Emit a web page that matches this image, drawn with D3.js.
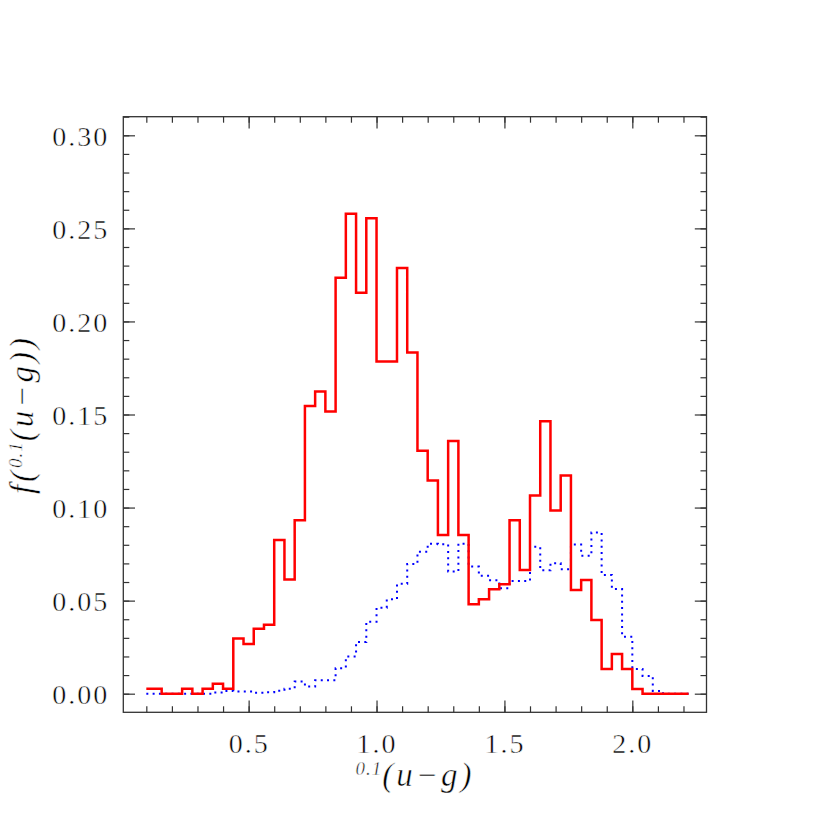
<!DOCTYPE html>
<html><head><meta charset="utf-8">
<script src="https://cdn.jsdelivr.net/npm/d3@7"></script>
<style>body{margin:0;background:#fff}svg{display:block}</style>
</head><body><svg id="c" width="830" height="830"></svg>
<script>
// ---- data ----
const binCenters = [0.10,0.14,0.18,0.22,0.26,0.30,0.34,0.38,0.42,0.46,0.50,0.54,0.58,0.62,0.66,0.70,0.74,0.78,
  0.82,0.86,0.90,0.94,0.98,1.02,1.06,1.10,1.14,1.18,1.22,1.26,1.30,1.34,1.38,1.42,1.46,1.50,1.54,1.58,
  1.62,1.66,1.70,1.74,1.78,1.82,1.86,1.90,1.94,1.98,2.02,2.06,2.10,2.14,2.18,2.22];
const redValues = [0.0027,0.0027,0,0,0.0027,0,0.0027,0.0054,0.0027,0.0296,0.0267,0.0349,0.0371,0.0826,0.0613,0.0932,0.1545,0.1624,
  0.1516,0.2235,0.2579,0.2154,0.2554,0.1785,0.1785,0.2287,0.1833,0.1305,0.1145,0.0853,0.1357,0.0853,0.0481,0.0507,0.0561,0.0588,0.0932,0.0665,
  0.1065,0.1464,0.0984,0.1172,0.0557,0.0611,0.0396,0.0133,0.0213,0.0133,0.0025,0,0,0,0,0];
const blueValues = [0,0,0,0,0,0,0,0.0007,0.0015,0.0012,0.0012,0.0005,0.0008,0.0016,0.0027,0.0065,0.0038,0.0072,
  0.0072,0.0137,0.0200,0.0278,0.0387,0.0462,0.0507,0.0590,0.0697,0.0763,0.0805,0.0803,0.0656,0.0806,0.0683,0.0633,0.0610,0.0567,0.0606,0.0606,
  0.0789,0.0663,0.0701,0.0669,0.0802,0.0741,0.0866,0.0638,0.0562,0.0306,0.0133,0.0095,0.0015,0,0,0];
const xMajorTicks = [0.5, 1.0, 1.5, 2.0];
const xTickLabels = ["0.5", "1.0", "1.5", "2.0"];
const yMajorTicks = [0.00, 0.05, 0.10, 0.15, 0.20, 0.25, 0.30];
const yTickLabels = ["0.00", "0.05", "0.10", "0.15", "0.20", "0.25", "0.30"];
const xMinorTicks = d3.range(1, 23).map(i => i / 10);
const yMinorTicks = d3.range(0, 32).map(i => i / 100);

// ---- layout ----
const L = 123.3, R = 706.5, T = 116.7, B = 712.3;
const svg = d3.select("#c");
svg.append("rect").attr("width", 830).attr("height", 830).attr("fill", "#fff");
const x = d3.scaleLinear().domain([0.01, 2.29]).range([L, R]);
const y = d3.scaleLinear().domain([-0.01, 0.31]).range([B, T]);

const axisColor = "#333";
const fontNum = "'Liberation Serif', 'Times New Roman', serif";

function drawAxis(axisGen, tx, ty, ticks, size, fmt) {
  const g = svg.append("g").attr("transform", `translate(${tx},${ty})`)
    .call(axisGen.tickValues(ticks).tickSizeInner(size).tickSizeOuter(0).tickFormat(fmt || (() => "")));
  g.select(".domain").remove();
  g.selectAll(".tick line").attr("stroke", axisColor).attr("stroke-width", 1.2);
  return g;
}
// minor ticks
drawAxis(d3.axisBottom(x), 0, B, xMinorTicks, -6);
drawAxis(d3.axisTop(x), 0, T, xMinorTicks, -6);
drawAxis(d3.axisLeft(y), L, 0, yMinorTicks, -6);
drawAxis(d3.axisRight(y), R, 0, yMinorTicks, -6);
// major ticks
const gxb = drawAxis(d3.axisBottom(x), 0, B, xMajorTicks, -11.7, (d, i) => xTickLabels[i]);
drawAxis(d3.axisTop(x), 0, T, xMajorTicks, -11.7);
const gyl = drawAxis(d3.axisLeft(y), L, 0, yMajorTicks, -11.7, (d, i) => yTickLabels[i]);
drawAxis(d3.axisRight(y), R, 0, yMajorTicks, -11.7);

function thin(sel) {
  sel.attr("fill", "#000").attr("stroke", "#fff").attr("stroke-width", 0.5).attr("paint-order", "normal");
}
gxb.selectAll(".tick text").attr("y", 41).attr("dy", 0)
  .attr("font-family", fontNum).attr("font-size", 28).attr("letter-spacing", 2).call(thin);
gyl.selectAll(".tick text").attr("x", -14).attr("dy", "0.36em")
  .attr("font-family", fontNum).attr("font-size", 28).attr("letter-spacing", 2).call(thin);

// frame
svg.append("rect").attr("x", L).attr("y", T).attr("width", R - L).attr("height", B - T)
  .attr("fill", "none").attr("stroke", axisColor).attr("stroke-width", 1.3);

// ---- histograms (IDL psym=10 style steps) ----
const line = d3.line().x(d => x(d[0])).y(d => y(d[1])).curve(d3.curveStep);
svg.append("path").datum(binCenters.map((c, i) => [c, blueValues[i]]))
  .attr("d", line).attr("fill", "none").attr("stroke", "#0000ff")
  .attr("stroke-width", 2).attr("stroke-dasharray", "2 4.3");
svg.append("path").datum(binCenters.map((c, i) => [c, redValues[i]]))
  .attr("d", line).attr("fill", "none").attr("stroke", "#ff0000")
  .attr("stroke-width", 2.5).attr("stroke-linejoin", "miter");

// ---- axis titles ----
const xt = svg.append("text").attr("x", (L + R) / 2).attr("y", 786)
  .attr("text-anchor", "middle").attr("font-family", fontNum).attr("font-style", "italic")
  .attr("font-size", 33).call(thin);
xt.append("tspan").attr("font-size", 19).attr("dy", -11).attr("letter-spacing", 1).text("0.1");
xt.append("tspan").attr("dy", 11).attr("letter-spacing", 3).text("(u\u2212g)");

const yt = svg.append("text").attr("transform", `translate(33,${(T + B) / 2}) rotate(-90)`)
  .attr("text-anchor", "middle").attr("font-family", fontNum).attr("font-style", "italic")
  .attr("font-size", 33).call(thin);
yt.append("tspan").attr("letter-spacing", 3).text("f(");
yt.append("tspan").attr("font-size", 19).attr("dy", -11).attr("letter-spacing", 1).text("0.1");
yt.append("tspan").attr("dy", 11).attr("letter-spacing", 3).text("(u\u2212g))");
</script>
</body></html>
